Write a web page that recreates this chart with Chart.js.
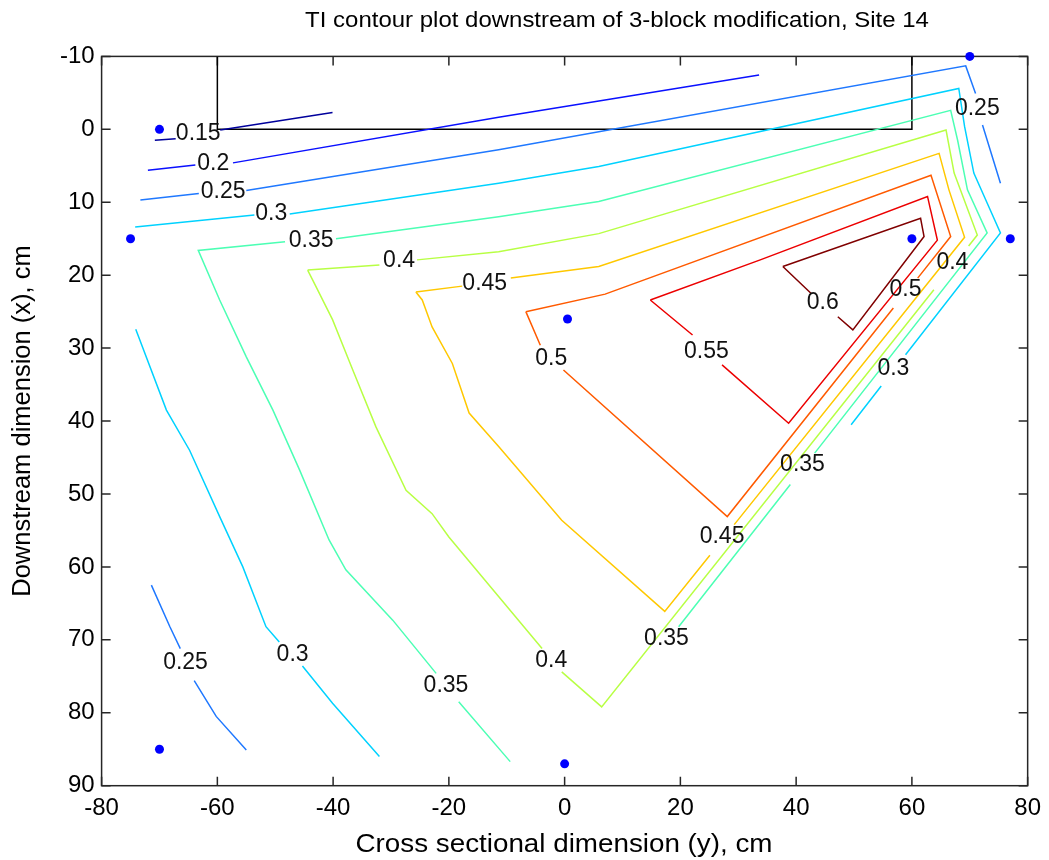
<!DOCTYPE html>
<html><head><meta charset="utf-8">
<script src="https://cdn.jsdelivr.net/npm/chart.js@4.4.1/dist/chart.umd.min.js"></script>
<style>html,body{margin:0;padding:0;background:#fff;}#wrap{width:1049px;height:860px;}</style>
</head><body><div id="wrap"><canvas id="c" width="1049" height="860"></canvas></div>
<script>
// ---- data (x = cross sectional y [cm], y = downstream x [cm]) ----
const xTicks = [-80, -60, -40, -20, 0, 20, 40, 60, 80];
const yTicks = [-10, 0, 10, 20, 30, 40, 50, 60, 70, 80, 90];

const c015 = [[-70.8,1.5],[-67.2,1.3],null,[-59.5,0.1],[-40.1,-2.3]];
const c020 = [[-72,5.6],[-63.8,4.9],null,[-57.3,4.6],[-11.4,-1.65],[33.6,-7.45]];
const c025a = [[-73.3,9.7],[-63.2,8.8],null,[-55,8.4],[-11.4,2.8],[69.3,-8.7],[71,-4.9],null,[72.2,-0.6],[75.3,7.4]];
const c025b = [[-71.4,62.5],[-68.2,68.2],[-66.4,71.2],null,[-64,75.6],[-60.2,80.5],[-55,85.1]];
const c030a = [[-74.2,13.4],[-53.6,11.75],null,[-47.5,11.6],[-11.4,7.4],[5.9,5.1],[68.1,-5.6],[69.1,-0.4],[70.7,6],[73,10.1],[75.3,14.2],[58.9,30.9],null,[54.7,35.2],[49.5,40.5]];
const c030b = [[-74.1,27.4],[-68.8,38.5],[-64.8,44],[-59.6,53.1],[-55.6,60],[-51.6,68.2],[-49.3,70.3],null,[-45.3,73.6],[-40.1,78.7],[-32,86]];
const c035 = [[-9.4,86.7],[-18.3,78.5],null,[-22.2,74.6],[-29.7,67.3],[-37.8,60.4],[-40.7,56.3],[-45.8,46.7],[-50.4,38.5],[-55,31.2],[-59.6,23.4],[-63.3,16.6],[-48.3,15.4],null,[-39.5,15],[-11.4,12],[5.9,9.9],[66.7,-2.6],[67.9,1.5],[69.6,8.3],[73,14.2],[43.2,44.4],null,[39,48.7],[19.7,68.2]];
const c040 = [[-44.4,19.3],[-32,18.6],null,[-25.5,17.9],[-11.4,16.8],[5.9,14.3],[65.9,0.1],[67.3,6],[71.3,14.5],[69.8,16.0],null,[63.8,22.0],[6.4,79.2],[-0.5,74.4],null,[-3.9,71.2],[-20,55.9],[-22.9,52.7],[-27.4,49.5],[-32.6,40.8],[-36.6,33],[-40.1,26.1],[-43.5,20.7],[-44.4,19.3]];
const c045 = [[-25.7,22.3],[-17.7,21.5],null,[-9.3,20.4],[5.9,18.8],[64.7,3.3],[66.4,8.3],[69.1,14.8],[29.3,54.2],null,[25.1,58.4],[17.3,66.1],[-0.5,53.6],[-11.4,43.5],[-16.5,38.9],[-19.4,32.1],[-22.9,27.1],[-24.6,23.4],[-25.7,22.3]];
const c050 = [[-6.7,25],[7,22.6],[63.3,6.3],[66.7,14.7],[61,20.4],null,[56.8,24.5],[28.1,53.1],[-0.2,33],null,[-4.2,29.6],[-6.7,25]];
const c055 = [[14.8,23.4],[33.8,17.9],[62.7,9.2],[64.4,15.2],[38.7,40.3],[27.2,32.3],null,[22.1,28.2],[14.8,23.4]];
const c060 = [[37.7,18.8],[61.5,12.2],[62.1,14.7],[49.8,27.5],[47.2,25.7],null,[42.6,22.5],[37.7,18.8]];

const blockX = [-60, -60, 60, 60];
const blockY = [-10, 0, 0, -10];

const probeX = [-70, -75, 70, 60, 77, 0.5, -70, 0];
const probeY = [0, 15, -10, 15, 15, 26, 85, 87];

const labelText = ['0.15','0.2','0.25','0.3','0.35','0.4','0.45','0.25','0.6','0.55','0.5','0.5','0.4','0.3','0.35','0.45','0.35','0.4','0.35','0.3','0.25'];
const labelX = [-63.3,-60.7,-59,-50.7,-43.8,-28.6,-13.8,71.3,44.6,24.5,-2.3,58.9,67,56.8,41.1,27.2,17.6,-2.3,-20.5,-47,-65.5];
const labelY = [0.55,4.7,8.6,11.5,15.2,18.0,21.1,-2.9,23.8,30.5,31.4,22.0,18.3,32.8,46.0,55.9,69.8,72.8,76.3,72.1,73.1];

const titleText = 'TI contour plot downstream of 3-block modification, Site 14';
const xTitleText = 'Cross sectional dimension (y), cm';
const yTitleText = 'Downstream dimension (x), cm';

// ---- styling ----
const contours = [
  [c015, '#00009c'], [c020, '#0a10ff'], [c025a, '#1f78ff'], [c025b, '#1f78ff'],
  [c030a, '#00d2ff'], [c030b, '#00d2ff'], [c035, '#4cffb4'], [c040, '#b8ff44'],
  [c045, '#ffc800'], [c050, '#ff5a00'], [c055, '#ec0000'], [c060, '#800000']
];
const FONT = 'Liberation Sans, Arial, sans-serif';
const STRETCH = 1.09;

function toPts(arr) {
  const out = []; let lastX = 0;
  arr.forEach(p => { if (p) { out.push({x: p[0], y: p[1]}); lastX = p[0]; } else out.push({x: lastX, y: null}); });
  return out;
}

const datasets = contours.map(([arr, col]) => ({
  data: toPts(arr), showLine: true, borderColor: col, borderWidth: 1.5,
  pointRadius: 0, spanGaps: false, tension: 0, order: 2
}));
datasets.push({
  data: blockX.map((x, i) => ({x, y: blockY[i]})), showLine: true, borderColor: '#000',
  borderWidth: 1.5, pointRadius: 0, order: 3
});
datasets.push({
  data: probeX.map((x, i) => ({x, y: probeY[i]})), showLine: false, pointRadius: 4.5,
  pointBackgroundColor: '#0000ff', pointBorderColor: '#0000ff', pointBorderWidth: 0,
  clip: false, order: 0
});

function stretchedText(ctx, text, cx, cy, size) {
  ctx.save();
  ctx.font = size + 'px ' + FONT;
  ctx.textAlign = 'center'; ctx.textBaseline = 'middle';
  ctx.translate(cx, cy); ctx.scale(STRETCH, 1);
  ctx.fillText(text, 0, 0);
  ctx.restore();
}

const framePlugin = {
  id: 'frame',
  beforeDatasetsDraw(chart) {
    const {ctx, chartArea: a, scales: {x, y}} = chart;
    ctx.save();
    ctx.strokeStyle = '#262626'; ctx.lineWidth = 1.5;
    ctx.strokeRect(a.left, a.top, a.right - a.left, a.bottom - a.top);
    ctx.beginPath();
    xTicks.forEach(v => { const p = x.getPixelForValue(v);
      ctx.moveTo(p, a.bottom); ctx.lineTo(p, a.bottom - 9);
      ctx.moveTo(p, a.top); ctx.lineTo(p, a.top + 9); });
    yTicks.forEach(v => { const p = y.getPixelForValue(v);
      ctx.moveTo(a.left, p); ctx.lineTo(a.left + 9, p);
      ctx.moveTo(a.right, p); ctx.lineTo(a.right - 9, p); });
    ctx.stroke();
    ctx.restore();
  },
  afterDatasetsDraw(chart) {
    const {ctx, scales: {x, y}} = chart;
    ctx.save();
    ctx.fillStyle = '#111'; ctx.font = '23px ' + FONT;
    ctx.textAlign = 'center'; ctx.textBaseline = 'middle';
    labelText.forEach((t, i) => ctx.fillText(t, x.getPixelForValue(labelX[i]), y.getPixelForValue(labelY[i])));
    ctx.restore();
  },
  afterDraw(chart) {
    const {ctx} = chart;
    ctx.save();
    ctx.fillStyle = '#000';
    stretchedText(ctx, titleText, 617, 21, 22);
    stretchedText(ctx, xTitleText, 564, 845, 25.5);
    ctx.restore();
  }
};

new Chart(document.getElementById('c'), {
  type: 'scatter',
  data: {datasets},
  plugins: [framePlugin],
  options: {
    responsive: false, animation: false, devicePixelRatio: 1,
    layout: {padding: {left: 0, right: 18.6, top: 56.4, bottom: 0}},
    plugins: {legend: {display: false}, tooltip: {enabled: false}, title: {display: false}},
    scales: {
      x: {type: 'linear', min: -80, max: 80,
        afterBuildTicks: s => { s.ticks = xTicks.map(v => ({value: v})); },
        afterFit: s => { s.height = 74.3; },
        grid: {display: false, drawTicks: false}, border: {display: false},
        ticks: {color: '#000', font: {family: FONT, size: 24}, padding: 8, maxRotation: 0, autoSkip: false},
        title: {display: false}
      },
      y: {type: 'linear', min: -10, max: 90, reverse: true,
        afterBuildTicks: s => { s.ticks = yTicks.map(v => ({value: v})); },
        afterFit: s => { s.width = 101.6; },
        grid: {display: false, drawTicks: false}, border: {display: false},
        ticks: {color: '#000', font: {family: FONT, size: 24}, padding: 7, autoSkip: false},
        title: {display: true, text: yTitleText, color: '#000',
          font: {family: FONT, size: 25.5}, padding: {top: 8, bottom: 0}}
      }
    }
  }
});
</script></body></html>
